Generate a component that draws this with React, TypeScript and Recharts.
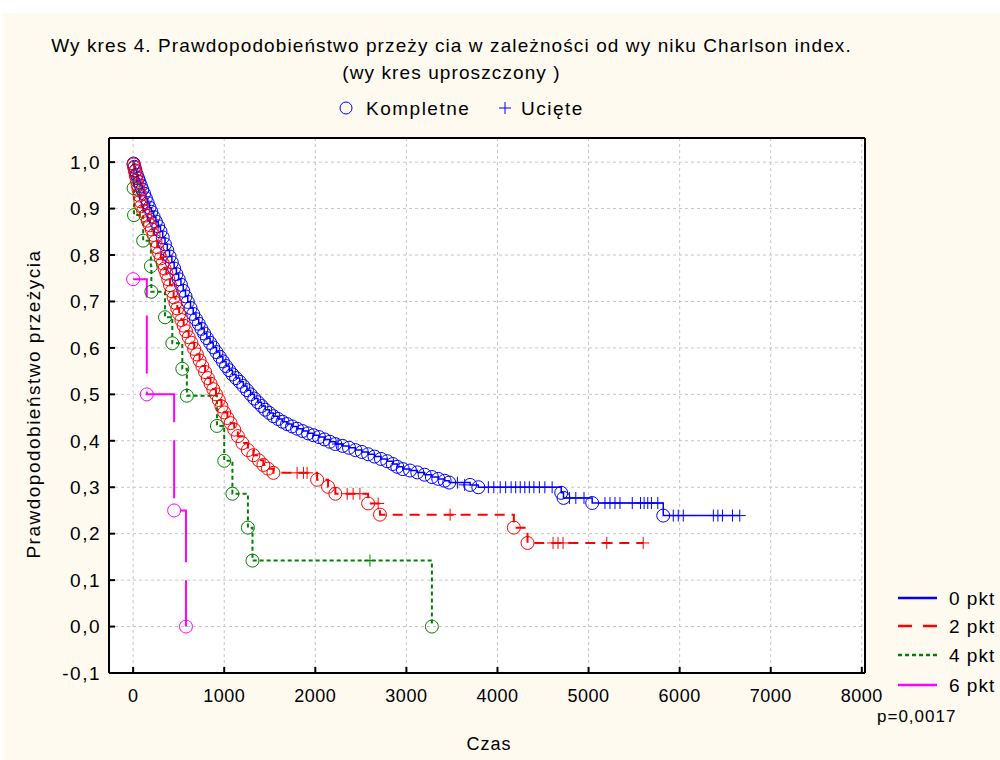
import { CartesianGrid, ComposedChart, Line, Scatter, XAxis, YAxis } from 'recharts';

type Pt = [number, number];

const CREAM = '#FEFAF0';
const FONT = '"Liberation Sans", Arial, sans-serif';

const xTicks = [0, 1000, 2000, 3000, 4000, 5000, 6000, 7000, 8000];
const yTicks = [-0.1, 0, 0.1, 0.2, 0.3, 0.4, 0.5, 0.6, 0.7, 0.8, 0.9, 1.0];

// 0 pkt — events (circles) and censored (+)
const blueEvents: Pt[] = [
  [5, 0.997], [15, 0.99], [25, 0.982], [40, 0.973], [55, 0.965], [70, 0.957], [85, 0.949],
  [100, 0.941], [120, 0.932], [140, 0.922], [160, 0.912], [180, 0.902], [200, 0.893],
  [225, 0.882], [250, 0.872], [275, 0.862], [300, 0.851], [325, 0.838], [350, 0.823],
  [375, 0.81], [400, 0.797], [425, 0.784], [450, 0.771], [475, 0.759], [500, 0.748],
  [525, 0.736], [550, 0.723], [575, 0.711], [600, 0.699], [630, 0.686], [660, 0.673],
  [690, 0.662], [720, 0.652], [750, 0.641], [780, 0.631], [810, 0.621], [845, 0.611],
  [880, 0.601], [915, 0.591], [950, 0.581], [985, 0.571], [1020, 0.561], [1055, 0.552],
  [1090, 0.543], [1130, 0.535], [1170, 0.527], [1210, 0.518], [1250, 0.509], [1290, 0.5],
  [1330, 0.491], [1370, 0.483], [1410, 0.475], [1450, 0.467], [1495, 0.46], [1540, 0.453],
  [1590, 0.447], [1640, 0.441], [1690, 0.436], [1745, 0.431], [1800, 0.426], [1860, 0.421],
  [1920, 0.416], [1980, 0.412], [2040, 0.408], [2100, 0.403], [2160, 0.398], [2220, 0.393],
  [2300, 0.389], [2370, 0.385], [2440, 0.38], [2510, 0.376], [2580, 0.371], [2650, 0.366],
  [2720, 0.361], [2790, 0.356], [2850, 0.35], [2900, 0.344], [2960, 0.339], [3040, 0.336],
  [3120, 0.332], [3200, 0.327], [3280, 0.322], [3350, 0.318], [3420, 0.314], [3470, 0.31],
  [3700, 0.305], [3790, 0.3], [4700, 0.288], [4725, 0.277], [5040, 0.266], [5820, 0.239],
];
const blueCensored: Pt[] = [
  [2250, 0.393], [3560, 0.31], [3640, 0.305], [3900, 0.3], [3960, 0.3], [4030, 0.3],
  [4090, 0.3], [4150, 0.3], [4200, 0.3], [4250, 0.3], [4300, 0.3], [4350, 0.3], [4400, 0.3],
  [4460, 0.3], [4520, 0.3], [4600, 0.3], [4790, 0.277], [4860, 0.277], [4950, 0.277],
  [5180, 0.266], [5235, 0.266], [5290, 0.266], [5345, 0.266], [5480, 0.266], [5570, 0.266],
  [5610, 0.266], [5650, 0.266], [5690, 0.266], [5760, 0.266], [5930, 0.239], [5985, 0.239],
  [6040, 0.239], [6370, 0.239], [6420, 0.239], [6470, 0.239], [6580, 0.239], [6660, 0.239],
];
const blueEnd = 6660;

// 2 pkt
const redEvents: Pt[] = [
  [5, 0.995], [12, 0.988], [20, 0.98], [30, 0.97], [40, 0.96], [50, 0.95], [60, 0.94],
  [70, 0.928], [80, 0.916], [90, 0.905], [110, 0.895], [135, 0.885], [160, 0.874],
  [185, 0.864], [205, 0.855], [225, 0.843], [245, 0.83], [265, 0.817], [285, 0.804],
  [305, 0.793], [325, 0.782], [345, 0.771], [365, 0.76], [385, 0.748], [405, 0.735],
  [425, 0.722], [445, 0.709], [465, 0.697], [485, 0.685], [505, 0.673], [530, 0.66],
  [555, 0.648], [580, 0.636], [610, 0.623], [640, 0.611], [670, 0.598], [700, 0.586],
  [730, 0.573], [760, 0.561], [790, 0.548], [820, 0.535], [850, 0.523], [880, 0.511],
  [910, 0.5], [940, 0.488], [970, 0.474], [1000, 0.461], [1035, 0.449], [1070, 0.438],
  [1110, 0.424], [1150, 0.41], [1200, 0.395], [1260, 0.38], [1320, 0.369], [1380, 0.358],
  [1430, 0.348], [1480, 0.34], [1540, 0.331], [2020, 0.316], [2140, 0.301], [2220, 0.286],
  [2580, 0.265], [2710, 0.241], [4180, 0.213], [4330, 0.18],
];
const redCensored: Pt[] = [
  [1800, 0.331], [1870, 0.331], [1910, 0.331], [2350, 0.286], [2415, 0.286], [2490, 0.286],
  [2690, 0.265], [3480, 0.241], [4610, 0.18], [4665, 0.18], [4720, 0.18], [5200, 0.18],
  [5600, 0.18],
];
const redEnd = 5600;

// 4 pkt
const greenEvents: Pt[] = [
  [5, 0.944], [10, 0.886], [110, 0.831], [195, 0.776], [200, 0.721], [350, 0.666],
  [430, 0.61], [540, 0.555], [590, 0.497], [920, 0.432], [1000, 0.357], [1090, 0.286],
  [1260, 0.213], [1310, 0.142], [3280, 0.0],
];
const greenCensored: Pt[] = [[2600, 0.142]];

// 6 pkt
const pinkEvents: Pt[] = [[0, 0.748], [150, 0.5], [450, 0.25], [580, 0.0]];

const toPoints = (pts: Pt[]) => pts.map(([t, s]) => ({ t, s }));

function stepLine(events: Pt[], end?: number, fromOne = true) {
  const pts = toPoints(events);
  const out = fromOne ? [{ t: 0, s: 1 }, ...pts] : pts;
  if (end !== undefined) out.push({ t: end, s: events[events.length - 1][1] });
  return out;
}

const ringShape = (color: string) => (p: any) => (
  <circle cx={p.cx} cy={p.cy} r={6.5} fill="none" stroke={color} strokeWidth={1} />
);
const plusShape = (color: string) => (p: any) => (
  <path
    d={`M${p.cx - 6},${p.cy}h12M${p.cx},${p.cy - 6}v12`}
    stroke={color}
    strokeWidth={1}
    fill="none"
  />
);

const fmtY = (v: number) => v.toFixed(1).replace('.', ',');

const SERIES = [
  { name: '0 pkt', color: '#0000FF', dash: undefined, width: 1.5 },
  { name: '2 pkt', color: '#FF0000', dash: '10 7', width: 2 },
  { name: '4 pkt', color: '#008000', dash: '4 3', width: 2 },
  { name: '6 pkt', color: '#FF00FF', dash: '58 18', width: 2 },
];

const legendY = [598, 626, 655, 685];

export default function App() {
  const axisLine = { stroke: '#000', strokeWidth: 2 };
  const tickLine = { stroke: '#000', strokeWidth: 2 };
  const xTickStyle = { fontSize: 18, fill: '#000', fontFamily: FONT, letterSpacing: 0.5 };
  const yTickStyle = { fontSize: 19, fill: '#000', fontFamily: FONT, letterSpacing: 1.5 };
  const titleStyle = {
    position: 'absolute' as const,
    left: 0,
    width: 903,
    textAlign: 'center' as const,
    fontSize: 19,
    lineHeight: '22px',
    letterSpacing: 1.1,
    whiteSpace: 'nowrap' as const,
  };

  return (
    <div
      style={{
        position: 'absolute',
        left: 0,
        top: 0,
        width: 1000,
        height: 760,
        background: '#fff',
        overflow: 'hidden',
        fontFamily: FONT,
        color: '#000',
      }}
    >
      <div style={{ position: 'absolute', left: 3, top: 13, width: 997, height: 747, background: CREAM }} />

      <div style={{ ...titleStyle, top: 35 }}>
        Wy kres 4. Prawdopodobieństwo przeży cia w zależności od wy niku Charlson index.
      </div>
      <div style={{ ...titleStyle, top: 62 }}>(wy kres uproszczony )</div>

      <svg style={{ position: 'absolute', left: 0, top: 0 }} width={1000} height={760}>
        <circle cx={346} cy={108} r={6} fill="none" stroke="#0000FF" strokeWidth={1} />
        <text x={366} y={115} fontSize={19} letterSpacing={1.5} fontFamily={FONT}>Kompletne</text>
        <path d="M499,108h12M505,102v12" stroke="#0000FF" strokeWidth={1} />
        <text x={521} y={115} fontSize={19} letterSpacing={1.5} fontFamily={FONT}>Ucięte</text>

        {SERIES.map((s, i) => (
          <g key={s.name}>
            <line
              x1={898}
              x2={937}
              y1={legendY[i]}
              y2={legendY[i]}
              stroke={s.color}
              strokeWidth={2.5}
              strokeDasharray={i === 1 ? '14 11' : i === 2 ? '4 3' : undefined}
            />
            <text x={949} y={legendY[i] + 7} fontSize={19} letterSpacing={1} fontFamily={FONT}>
              {s.name}
            </text>
          </g>
        ))}
        <text x={877} y={722} fontSize={17} letterSpacing={1} fontFamily={FONT}>p=0,0017</text>
        <text x={489} y={750} fontSize={18} letterSpacing={1} fontFamily={FONT} textAnchor="middle">
          Czas
        </text>
        <text
          x={0}
          y={0}
          fontSize={19}
          letterSpacing={1.5}
          fontFamily={FONT}
          textAnchor="middle"
          transform="translate(40,404) rotate(-90)"
        >
          Prawdopodobieństwo przeżycia
        </text>
      </svg>

      <ComposedChart
        width={1000}
        height={760}
        margin={{ top: 137, right: 134, bottom: 57, left: 49 }}
        style={{ position: 'absolute', left: 0, top: 0 }}
      >
        <CartesianGrid stroke="#c4c4c4" strokeDasharray="3 3" fill="#ffffff" />
        <XAxis
          dataKey="t"
          type="number"
          domain={[-265, 8035]}
          ticks={xTicks}
          height={30}
          axisLine={axisLine}
          tickLine={tickLine}
          tickSize={-6}
          tickMargin={22}
          tick={xTickStyle}
        />
        <XAxis
          xAxisId="top"
          orientation="top"
          dataKey="t"
          type="number"
          domain={[-265, 8035]}
          ticks={xTicks}
          height={1}
          axisLine={axisLine}
          tickLine={tickLine}
          tickSize={-6}
          tick={false}
        />
        <YAxis
          dataKey="s"
          type="number"
          domain={[-0.1, 1.052]}
          ticks={yTicks}
          width={60}
          axisLine={axisLine}
          tickLine={tickLine}
          tickSize={-6}
          tickMargin={14}
          tick={yTickStyle}
          tickFormatter={fmtY}
          interval={0}
        />
        <YAxis
          yAxisId="right"
          orientation="right"
          dataKey="s"
          type="number"
          domain={[-0.1, 1.052]}
          ticks={yTicks}
          width={1}
          axisLine={axisLine}
          tickLine={tickLine}
          tickSize={-6}
          tick={false}
          interval={0}
        />

        <Line
          data={stepLine(blueEvents, blueEnd)}
          dataKey="s"
          type="stepAfter"
          stroke={SERIES[0].color}
          strokeWidth={SERIES[0].width}
          dot={false}
          isAnimationActive={false}
        />
        <Scatter data={toPoints(blueEvents)} shape={ringShape('#0000FF')} isAnimationActive={false} />
        <Scatter data={toPoints(blueCensored)} shape={plusShape('#0000FF')} isAnimationActive={false} />

        <Line
          data={stepLine(redEvents, redEnd)}
          dataKey="s"
          type="stepAfter"
          stroke={SERIES[1].color}
          strokeWidth={SERIES[1].width}
          strokeDasharray={SERIES[1].dash}
          dot={false}
          isAnimationActive={false}
        />
        <Scatter data={toPoints(redEvents)} shape={ringShape('#FF0000')} isAnimationActive={false} />
        <Scatter data={toPoints(redCensored)} shape={plusShape('#FF0000')} isAnimationActive={false} />

        <Line
          data={stepLine(greenEvents)}
          dataKey="s"
          type="stepAfter"
          stroke={SERIES[2].color}
          strokeWidth={SERIES[2].width}
          strokeDasharray={SERIES[2].dash}
          dot={false}
          isAnimationActive={false}
        />
        <Scatter data={toPoints(greenEvents)} shape={ringShape('#008000')} isAnimationActive={false} />
        <Scatter data={toPoints(greenCensored)} shape={plusShape('#008000')} isAnimationActive={false} />

        <Line
          data={stepLine(pinkEvents, undefined, false)}
          dataKey="s"
          type="stepAfter"
          stroke={SERIES[3].color}
          strokeWidth={SERIES[3].width}
          strokeDasharray={SERIES[3].dash}
          strokeDashoffset={26}
          dot={false}
          isAnimationActive={false}
        />
        <Scatter data={toPoints(pinkEvents)} shape={ringShape('#FF00FF')} isAnimationActive={false} />
      </ComposedChart>
    </div>
  );
}
